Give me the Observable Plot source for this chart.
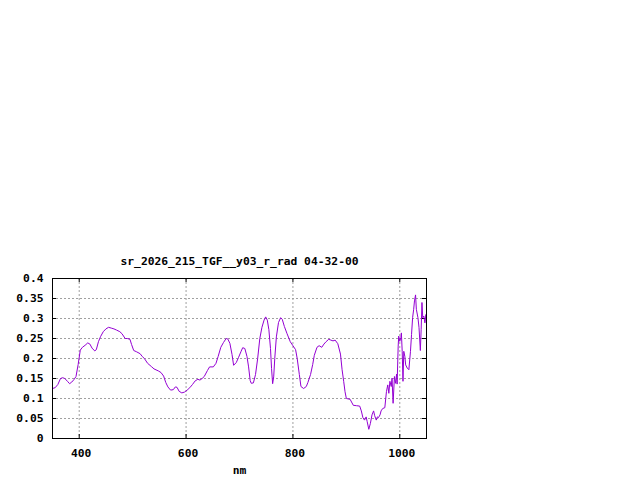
<!DOCTYPE html>
<html>
<head>
<meta charset="utf-8">
<script src="https://cdn.jsdelivr.net/npm/d3@7"></script>
<script src="https://cdn.jsdelivr.net/npm/@observablehq/plot@0.6"></script>
<style>
  html, body { margin: 0; padding: 0; background: #fff; }
  #chart { width: 640px; height: 480px; }
  svg { display: block; }
</style>
</head>
<body>
<div id="chart"></div>
<script>
const title = "sr_2026_215_TGF__y03_r_rad 04-32-00";
const xLabel = "nm";
const xTicks = [400, 600, 800, 1000];
const yTicks = [0, 0.05, 0.1, 0.15, 0.2, 0.25, 0.3, 0.35, 0.4];

const wavelength = [
  350, 355, 360, 365, 369, 373, 378, 382, 386, 390, 394, 398, 402, 406, 411, 416, 420, 424, 429, 432,
  436, 440, 445, 450, 455, 460, 465, 470, 476, 480, 486, 490, 495, 498, 502, 507, 514, 518, 522, 528,
  535, 540, 548, 553, 558, 562, 566, 571, 576, 580, 583, 587, 592, 597, 602, 607, 612, 617, 622, 626,
  630, 634, 640, 644, 651, 656, 660, 665, 670, 675, 678, 682, 686, 689, 694, 698, 703, 706, 710, 714,
  717, 720, 722, 726, 730, 734, 738, 742, 746, 749, 752, 755, 758, 760, 762, 764, 766, 769, 773, 777,
  780, 784, 789, 795, 800, 805, 808, 812, 815, 820, 825, 828, 833, 837, 840, 845, 849, 854, 858, 862,
  867, 871, 875, 879, 884, 889, 892, 895, 897.5, 900, 907, 913, 919, 925, 928, 931, 934, 937, 939, 942,
  945, 948, 951, 953, 956, 958, 960, 963, 965, 968, 972, 975, 977.5, 979.5, 981.5, 984, 985.5, 987.5, 990, 992,
  994, 995, 997, 998, 1000, 1002, 1003, 1004.5, 1006, 1007.5, 1009.5, 1011, 1014, 1017, 1020, 1022, 1024, 1026, 1027.5, 1029.5,
  1031, 1034, 1036, 1038.5, 1040, 1041.5, 1043, 1045, 1047, 1049, 1050
];
const radiance = [
  0.125, 0.127, 0.135, 0.150, 0.152, 0.150, 0.143, 0.137, 0.141, 0.147, 0.155, 0.185, 0.221, 0.228, 0.233, 0.239, 0.236, 0.226, 0.219, 0.222,
  0.242, 0.255, 0.267, 0.274, 0.278, 0.276, 0.274, 0.271, 0.267, 0.262, 0.250, 0.250, 0.248, 0.235, 0.220, 0.217, 0.212, 0.205, 0.200, 0.188,
  0.180, 0.174, 0.169, 0.165, 0.156, 0.140, 0.129, 0.121, 0.122, 0.129, 0.128, 0.118, 0.114, 0.116, 0.121, 0.127, 0.135, 0.144, 0.148, 0.146,
  0.150, 0.155, 0.170, 0.179, 0.179, 0.188, 0.205, 0.228, 0.240, 0.250, 0.249, 0.238, 0.210, 0.183, 0.190, 0.202, 0.218, 0.227, 0.225, 0.205,
  0.179, 0.145, 0.138, 0.139, 0.160, 0.200, 0.250, 0.278, 0.296, 0.304, 0.296, 0.272, 0.225, 0.175, 0.137, 0.154, 0.200, 0.254, 0.290, 0.302,
  0.298, 0.280, 0.262, 0.242, 0.232, 0.222, 0.200, 0.160, 0.130, 0.125, 0.130, 0.140, 0.160, 0.185, 0.208, 0.228, 0.232, 0.228, 0.236, 0.242,
  0.248, 0.246, 0.244, 0.246, 0.237, 0.211, 0.172, 0.143, 0.117, 0.100, 0.098, 0.083, 0.082, 0.081, 0.069, 0.052, 0.046, 0.054, 0.042, 0.023,
  0.038, 0.059, 0.069, 0.057, 0.046, 0.054, 0.052, 0.059, 0.069, 0.075, 0.077, 0.117, 0.134, 0.113, 0.143, 0.130, 0.151, 0.088, 0.155, 0.138,
  0.161, 0.136, 0.231, 0.256, 0.243, 0.252, 0.264, 0.218, 0.143, 0.218, 0.205, 0.184, 0.176, 0.172, 0.218, 0.260, 0.302, 0.323, 0.344, 0.359,
  0.323, 0.302, 0.277, 0.220, 0.273, 0.340, 0.302, 0.306, 0.289, 0.310, 0.285
];

const data = wavelength.map((w, i) => ({nm: w, value: radiance[i]}));
const fmtY = d => String(+d.toFixed(2));
const fmtX = d => String(d);
const font = "'DejaVu Sans Mono', monospace";
const W = 640, H = 480, mL = 52, mR = 214, mT = 278, mB = 42;
const innerW = W - mL - mR, innerH = H - mT - mB;
const tick = 4;

const chart = Plot.plot({
  width: W, height: H,
  marginLeft: mL, marginRight: mR, marginTop: mT, marginBottom: mB,
  style: {fontFamily: font, fontSize: "11.3px", fontWeight: "bold", color: "black", background: "white", overflow: "visible"},
  x: {domain: [350, 1050]},
  y: {domain: [0, 0.4]},
  marks: [
    Plot.gridX(xTicks, {stroke: "#a0a0a0", strokeOpacity: 1, strokeDasharray: "2,2"}),
    Plot.gridY(yTicks, {stroke: "#a0a0a0", strokeOpacity: 1, strokeDasharray: "2,2"}),
    Plot.tickY(yTicks, {y: d => d, stroke: "black", insetRight: innerW - tick}),
    Plot.tickY(yTicks, {y: d => d, stroke: "black", insetLeft: innerW - tick}),
    Plot.tickX(xTicks, {x: d => d, stroke: "black", insetTop: innerH - tick}),
    Plot.tickX(xTicks, {x: d => d, stroke: "black", insetBottom: innerH - tick}),
    Plot.line(data, {x: "nm", y: "value", stroke: "#9400d3", strokeWidth: 1}),
    Plot.frame({stroke: "black"}),
    Plot.axisY(yTicks, {tickSize: 0, tickPadding: 9, tickFormat: fmtY, label: null, fontWeight: "bold"}),
    Plot.axisX(xTicks, {tickSize: 0, tickPadding: 10, tickFormat: fmtX, label: null, dx: 2, fontWeight: "bold"}),
    Plot.text([xLabel], {frameAnchor: "bottom", dy: 35, text: d => d, fontWeight: "bold"}),
    Plot.text([title], {frameAnchor: "top", dy: -22, text: d => d, fontWeight: "bold"})
  ]
});
document.getElementById("chart").appendChild(chart);
</script>
</body>
</html>
